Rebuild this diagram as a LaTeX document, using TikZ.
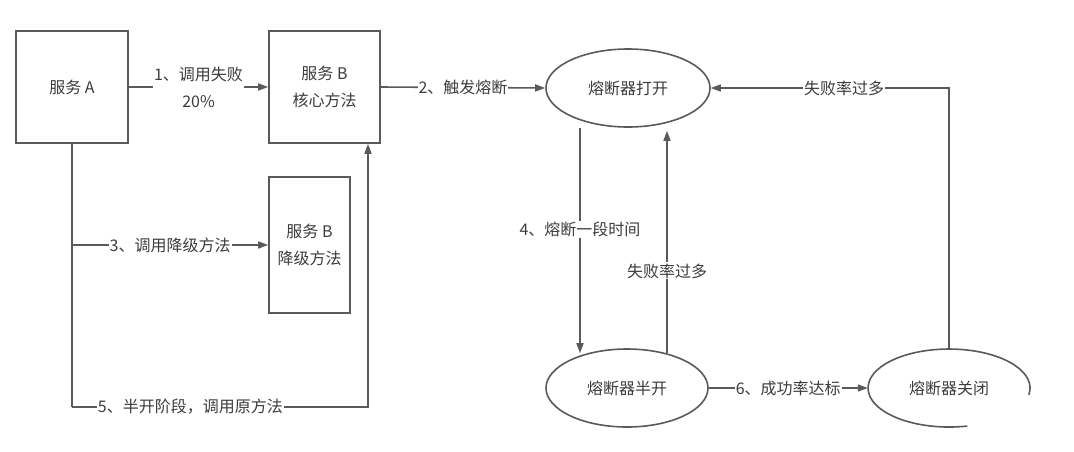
\documentclass[tikz,border=0pt]{standalone}
\usepackage{fontspec}
\setmainfont{Noto Sans CJK SC}
\usetikzlibrary{shapes.geometric,arrows.meta,positioning}
\definecolor{linegray}{HTML}{5A5A5A}
\definecolor{textgray}{HTML}{3C3C3C}
\tikzset{
  box/.style={draw=linegray,line width=1.6pt,inner sep=0pt,align=center,text=textgray},
  state/.style={ellipse,draw=linegray,line width=1.6pt,inner sep=0pt,minimum width=162pt,minimum height=78pt,text=textgray},
  conn/.style={draw=linegray,line width=1.6pt,-{Triangle[length=10pt,width=7pt]}},
  lbl/.style={fill=white,inner sep=1pt,text=textgray,align=center},
}

\begin{document}
\begin{tikzpicture}[x=1pt,y=-1pt,font=\fontsize{16}{27}\selectfont]
\useasboundingbox[fill=white] (0,0) rectangle (1074,451);
% services
\node[box,minimum width=112pt,minimum height=112pt] (svcA) at (72,87) {服务 A};
\node[box,minimum width=111pt,minimum height=112pt] (coreB) at (324.5,87) {服务 B\\核心方法};
\node[box,minimum width=81pt,minimum height=136pt] (fallB) at (309.5,245) {服务 B\\降级方法};
% breaker states
\node[state,minimum width=164pt] (open) at (628,88) {熔断器打开};
\node[state] (half) at (627,388) {熔断器半开};
\node[ellipse,inner sep=0pt,minimum width=162pt,minimum height=78pt,text=textgray] (closed) at (949,388) {熔断器关闭};
\draw[linegray,line width=1.6pt] ([xshift=79.8pt,yshift=-6.8pt]closed.center) arc[start angle=10,end angle=-283,x radius=81,y radius=39]; % cut-off outline
% bend points
\coordinate (fallIn) at (svcA.south |- fallB.west);
\coordinate (backL) at ([yshift=-263pt]svcA.south);
\coordinate (backIn) at ([xshift=43.5pt]coreB.south);
\coordinate (backR) at (backIn |- backL);
\coordinate (topR) at (closed.north |- open.east);
% connectors
\draw[conn] (svcA.east) -- node[lbl] {1、调用失败\\20\%} (coreB.west);
\draw[linegray,line width=1.6pt] (svcA.south) -- (backL);
\draw[conn] (fallIn) -- node[lbl] {3、调用降级方法} (fallB.west);
\draw[conn] (backL) -- node[lbl,pos=0.4] {5、半开阶段，调用原方法} (backR) -- (backIn);
\draw[conn] (coreB.east) -- node[lbl] {2、触发熔断} (open.west);
\draw[conn] ([xshift=-48pt]open.south) -- node[lbl,pos=0.45] {4、熔断一段时间} ([xshift=-47pt,yshift=-5pt]half.north);
\draw[conn] ([xshift=40pt,yshift=-5pt]half.north) -- node[lbl,pos=0.37] {失败率过多} ([xshift=39pt,yshift=-3pt]open.south);
\draw[conn] (half.east) -- node[lbl] {6、成功率达标} (closed.west);
\draw[conn] (closed.north) -- (topR) -- node[lbl,pos=0.44] {失败率过多} (open.east);
\end{tikzpicture}
\end{document}
